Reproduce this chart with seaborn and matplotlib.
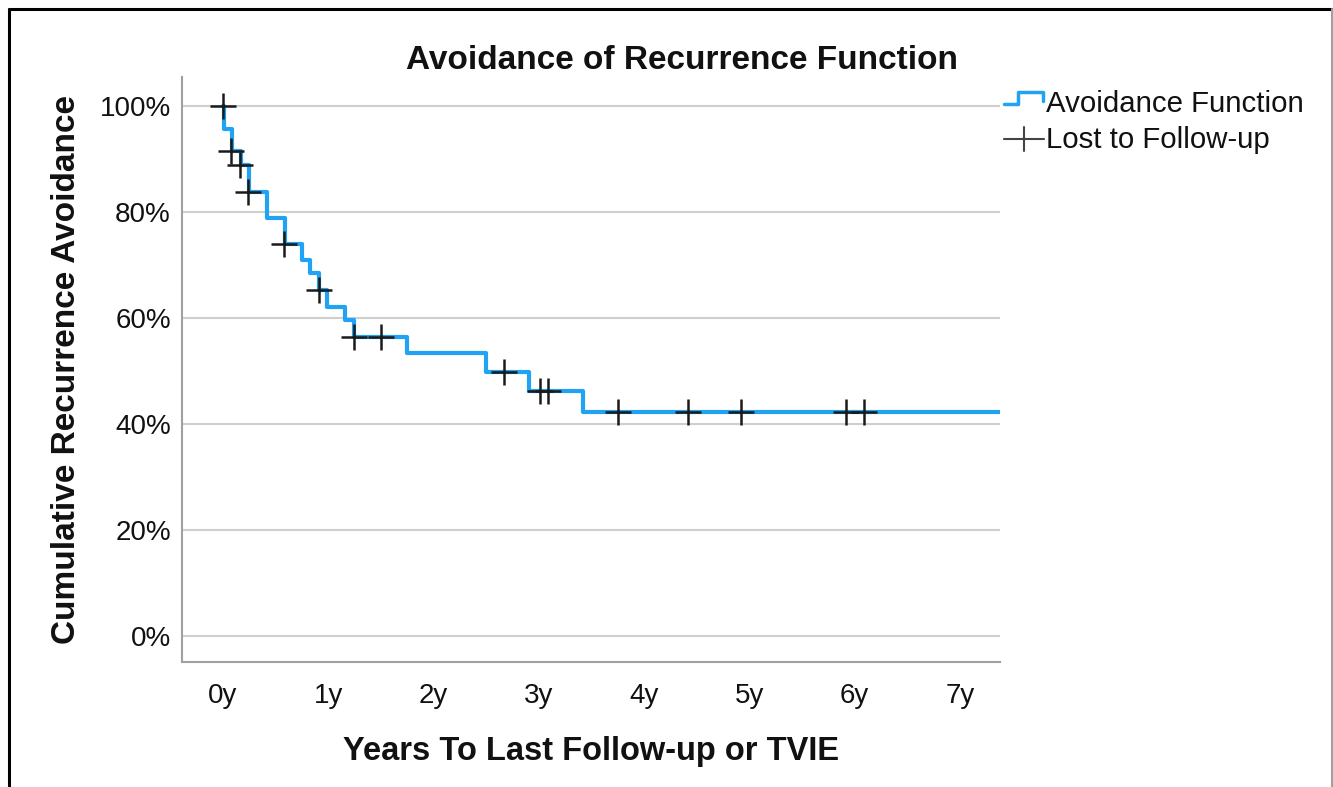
import matplotlib
matplotlib.use('Agg')
import numpy as np
import pandas as pd
import matplotlib.pyplot as plt
import seaborn as sns
from matplotlib.lines import Line2D
from matplotlib.legend_handler import HandlerBase

#=====DATA=====
step_years = [0.0, 0.01, 0.09, 0.17, 0.25, 0.42, 0.59, 0.75, 0.83, 0.91, 0.99,
              1.16, 1.24, 1.75, 2.50, 2.91, 3.42]
step_avoid = [100, 95.8, 91.5, 88.9, 83.8, 78.9, 74.0, 71.0, 68.5, 65.3, 62.1,
              59.6, 56.4, 53.4, 49.8, 46.2, 42.3]
censor_years = [0.0, 0.08, 0.16, 0.24, 0.58, 0.91, 1.24, 1.50, 2.67, 3.01, 3.09,
                3.75, 4.42, 4.92, 5.92, 6.09]
censor_avoid = [100, 91.5, 88.9, 83.8, 74.0, 65.3, 56.4, 56.4, 49.8, 46.2, 46.2,
                42.3, 42.3, 42.3, 42.3, 42.3]
x_ticks = [0, 1, 2, 3, 4, 5, 6, 7]
x_ticklabels = ["0y", "1y", "2y", "3y", "4y", "5y", "6y", "7y"]
y_ticks = [0, 20, 40, 60, 80, 100]
y_ticklabels = ["0%", "20%", "40%", "60%", "80%", "100%"]

x_min, x_max = -0.39, 7.38
y_min, y_max = -4.9, 105.5
blue = "#22a2f2"

#=====STYLE=====
sns.set_theme(style="white")
plt.rcParams['font.family'] = ['Liberation Sans', 'DejaVu Sans']

fig = plt.figure(figsize=(13.33, 7.87), dpi=100)
ax = fig.add_axes([0.1365, 0.159, 0.6136, 0.743])

# step curve, carried on to the right edge of the axis
curve = pd.DataFrame({"years": step_years + [x_max],
                      "avoid": step_avoid + [step_avoid[-1]]})
sns.lineplot(data=curve, x="years", y="avoid", drawstyle="steps-post",
             color=blue, linewidth=3, ax=ax, zorder=3)

censor = pd.DataFrame({"years": censor_years, "avoid": censor_avoid})
sns.scatterplot(data=censor, x="years", y="avoid", marker="+", s=330,
                color="#1a1a1a", linewidth=1.8, ax=ax, zorder=4)

#=====AXES=====
ax.set_xlim(x_min, x_max)
ax.set_ylim(y_min, y_max)
ax.set_xticks(x_ticks)
ax.set_xticklabels(x_ticklabels)
ax.set_yticks(y_ticks)
ax.set_yticklabels(y_ticklabels)
ax.tick_params(axis="both", length=0, labelsize=20, colors="#111111")
ax.tick_params(axis="x", pad=15)
ax.tick_params(axis="y", pad=8)
ax.yaxis.grid(True, color="#cfcfcf", linewidth=1.5)
ax.xaxis.grid(False)
for side in ["top", "right"]:
    ax.spines[side].set_visible(False)
for side in ["left", "bottom"]:
    ax.spines[side].set_color("#a0a0a0")
    ax.spines[side].set_linewidth(1.5)

ax.set_title("Avoidance of Recurrence Function", fontsize=24,
             fontweight="bold", color="#111111", pad=6, x=0.611)
ax.set_xlabel("Years To Last Follow-up or TVIE", fontsize=23.5,
              fontweight="bold", color="#111111", labelpad=20)
ax.set_ylabel("Cumulative Recurrence Avoidance", fontsize=24,
              fontweight="bold", color="#111111", labelpad=13)


#=====LEGEND=====
class StepHandler(HandlerBase):
    def create_artists(self, legend, orig_handle, xd, yd, width, height,
                       fontsize, trans):
        xs = np.array([0, 0.35, 0.35, 0.97, 0.97]) * width - xd
        ys = np.array([0.35, 0.35, 0.95, 0.95, 0.5]) * height - yd
        return [Line2D(xs, ys, color=blue, linewidth=2.5, transform=trans)]


class CrossHandler(HandlerBase):
    def create_artists(self, legend, orig_handle, xd, yd, width, height,
                       fontsize, trans):
        h = Line2D(np.array([0, 1.0]) * width - xd,
                   np.array([0.45, 0.45]) * height - yd,
                   color="#444444", linewidth=1.5, transform=trans)
        v = Line2D(np.array([0.5, 0.5]) * width - xd,
                   np.array([-0.15, 1.0]) * height - yd,
                   color="#444444", linewidth=1.5, transform=trans)
        return [h, v]


step_handle = Line2D([], [], color=blue)
cross_handle = Line2D([], [], color="#444444")
leg = fig.legend([step_handle, cross_handle],
                 ["Avoidance Function", "Lost to Follow-up"],
                 handler_map={step_handle: StepHandler(),
                              cross_handle: CrossHandler()},
                 loc="upper left", bbox_to_anchor=(0.7445, 0.901),
                 frameon=False, fontsize=21.2, handlelength=1.35,
                 handletextpad=0.08, labelspacing=0.28, borderaxespad=0)
for t in leg.get_texts():
    t.set_color("#111111")

#=====FRAME=====
fig.add_artist(Line2D([0.0065, 0.0065], [0, 0.988], color="black",
                      linewidth=2.2, transform=fig.transFigure))
fig.add_artist(Line2D([0.0065, 0.999], [0.988, 0.988], color="black",
                      linewidth=2.2, transform=fig.transFigure))
fig.add_artist(Line2D([0.999, 0.999], [0, 0.988], color="#a0a0a0",
                      linewidth=1.5, transform=fig.transFigure))

fig.savefig("out.png", dpi=100)
